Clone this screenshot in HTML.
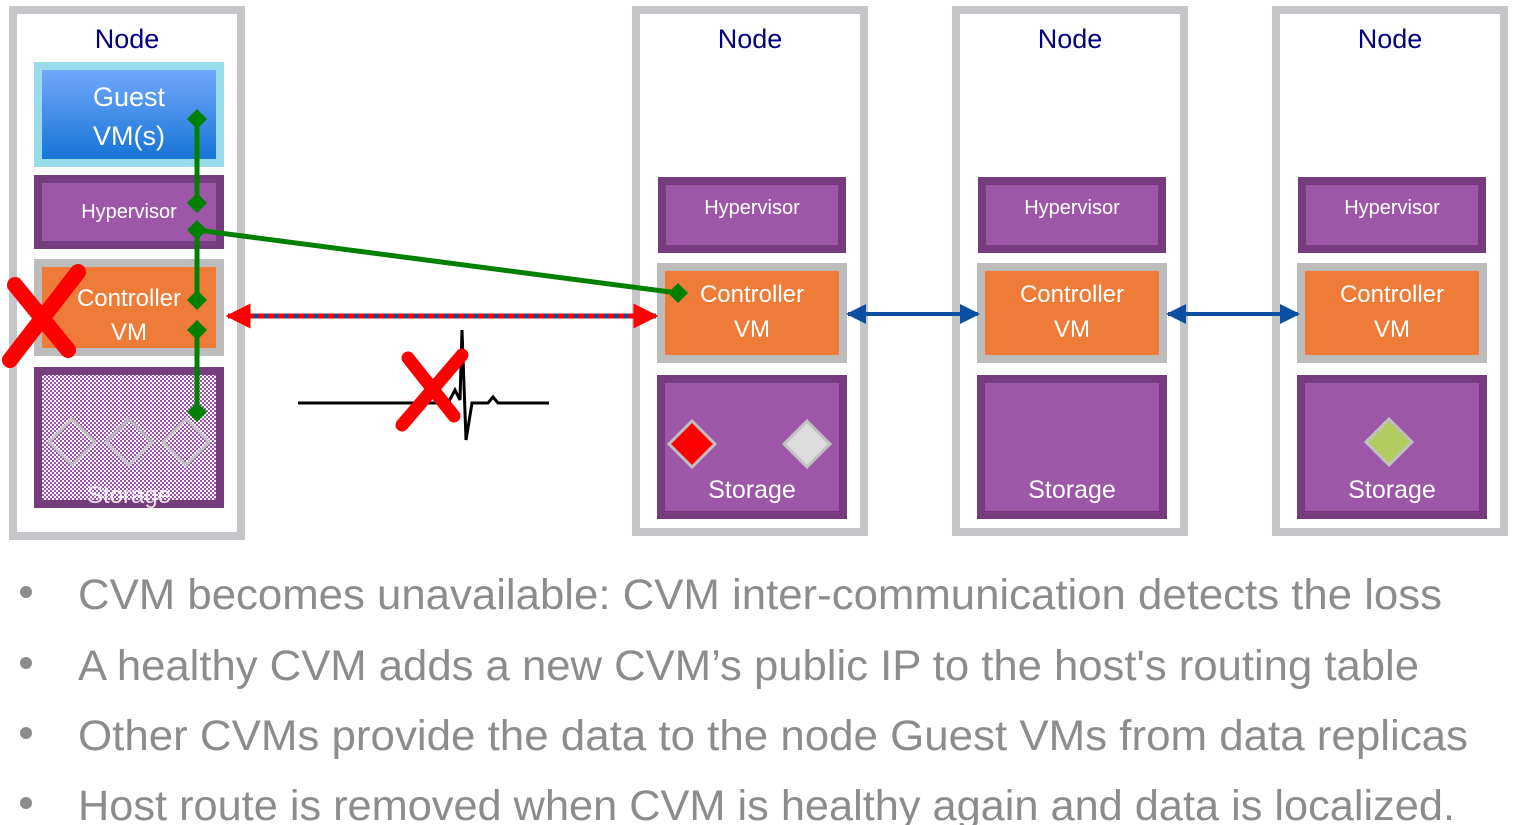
<!DOCTYPE html>
<html><head><meta charset="utf-8"><style>
html,body{margin:0;padding:0;background:#fff;}
svg{display:block;font-family:"Liberation Sans",sans-serif;}
</style></head><body>
<svg width="1523" height="825" viewBox="0 0 1523 825" xmlns="http://www.w3.org/2000/svg">
<defs>
<linearGradient id="gb" x1="0" y1="0" x2="0" y2="1"><stop offset="0" stop-color="#74aaff"/><stop offset="1" stop-color="#1472d4"/></linearGradient>
<pattern id="hatch" width="4" height="4" patternUnits="userSpaceOnUse"><rect width="4" height="4" fill="#fff"/><rect width="2" height="2" fill="#a050b0"/><rect x="2" y="2" width="2" height="2" fill="#a050b0"/></pattern>
<marker id="ab" viewBox="0 0 10 10" refX="9" refY="5" markerWidth="5" markerHeight="5" orient="auto-start-reverse"><path d="M0,0L10,5L0,10z" fill="#0b4ea2"/></marker>
<marker id="ar" viewBox="0 0 10 10" refX="9" refY="5" markerWidth="5" markerHeight="5" orient="auto-start-reverse"><path d="M0,0L10,5L0,10z" fill="#f00"/></marker>
</defs>

<!-- Node 1 -->
<rect x="13" y="10" width="228" height="526" fill="#fff" stroke="#c6c6ca" stroke-width="8"/>
<text x="127" y="48" font-size="27" fill="#000080" text-anchor="middle">Node</text>
<rect x="38" y="66" width="182" height="97" fill="url(#gb)" stroke="#99dcec" stroke-width="8"/>
<text x="129" y="106" font-size="27" fill="#fff" text-anchor="middle">Guest</text>
<text x="129" y="145" font-size="27" fill="#fff" text-anchor="middle">VM(s)</text>
<rect x="38" y="179" width="182" height="66" fill="#9e57a8" stroke="#763c7d" stroke-width="8"/>
<text x="129" y="218" font-size="20" fill="#fff" text-anchor="middle">Hypervisor</text>
<rect x="38" y="263" width="182" height="89" fill="#ee7b38" stroke="#bbbcbb" stroke-width="8"/>
<text x="129" y="306" font-size="24" fill="#fff" text-anchor="middle">Controller</text>
<text x="129" y="340" font-size="24" fill="#fff" text-anchor="middle">VM</text>
<rect x="38" y="371" width="182" height="133" fill="url(#hatch)" stroke="#763c7d" stroke-width="8"/>
<g fill="none" stroke="#c0c0c0" stroke-width="3">
<path d="M72,419 L95,442 L72,465 L49,442z"/><path d="M129,419 L152,442 L129,465 L106,442z"/><path d="M186,419 L209,442 L186,465 L163,442z"/>
</g>
<text x="129" y="503" font-size="24" fill="#fff" text-anchor="middle" opacity="0.85">Storage</text>

<!-- Nodes 2-4 -->
<g id="n2">
<rect x="636" y="10" width="228" height="522" fill="#fff" stroke="#c6c6ca" stroke-width="8"/>
<text x="750" y="48" font-size="27" fill="#000080" text-anchor="middle">Node</text>
<rect x="662" y="181" width="180" height="68" fill="#9e57a8" stroke="#763c7d" stroke-width="8"/>
<text x="752" y="214" font-size="20" fill="#fff" text-anchor="middle">Hypervisor</text>
<rect x="661" y="267" width="182" height="92" fill="#ee7b38" stroke="#bbbcbb" stroke-width="8"/>
<text x="752" y="302" font-size="24" fill="#fff" text-anchor="middle">Controller</text>
<text x="752" y="337" font-size="24" fill="#fff" text-anchor="middle">VM</text>
<rect x="661" y="379" width="182" height="136" fill="#9e57a8" stroke="#763c7d" stroke-width="8"/>
<text x="752" y="498" font-size="25" fill="#fff" text-anchor="middle">Storage</text>
</g>
<path d="M692,421 L715,444 L692,467 L669,444z" fill="#f00" stroke="#c0c0c0" stroke-width="3"/>
<path d="M807,421 L830,444 L807,467 L784,444z" fill="#dcdcdc" stroke="#c0c0c0" stroke-width="3"/>

<g transform="translate(320,0)">
<rect x="636" y="10" width="228" height="522" fill="#fff" stroke="#c6c6ca" stroke-width="8"/>
<text x="750" y="48" font-size="27" fill="#000080" text-anchor="middle">Node</text>
<rect x="662" y="181" width="180" height="68" fill="#9e57a8" stroke="#763c7d" stroke-width="8"/>
<text x="752" y="214" font-size="20" fill="#fff" text-anchor="middle">Hypervisor</text>
<rect x="661" y="267" width="182" height="92" fill="#ee7b38" stroke="#bbbcbb" stroke-width="8"/>
<text x="752" y="302" font-size="24" fill="#fff" text-anchor="middle">Controller</text>
<text x="752" y="337" font-size="24" fill="#fff" text-anchor="middle">VM</text>
<rect x="661" y="379" width="182" height="136" fill="#9e57a8" stroke="#763c7d" stroke-width="8"/>
<text x="752" y="498" font-size="25" fill="#fff" text-anchor="middle">Storage</text>
</g>
<g transform="translate(640,0)">
<rect x="636" y="10" width="228" height="522" fill="#fff" stroke="#c6c6ca" stroke-width="8"/>
<text x="750" y="48" font-size="27" fill="#000080" text-anchor="middle">Node</text>
<rect x="662" y="181" width="180" height="68" fill="#9e57a8" stroke="#763c7d" stroke-width="8"/>
<text x="752" y="214" font-size="20" fill="#fff" text-anchor="middle">Hypervisor</text>
<rect x="661" y="267" width="182" height="92" fill="#ee7b38" stroke="#bbbcbb" stroke-width="8"/>
<text x="752" y="302" font-size="24" fill="#fff" text-anchor="middle">Controller</text>
<text x="752" y="337" font-size="24" fill="#fff" text-anchor="middle">VM</text>
<rect x="661" y="379" width="182" height="136" fill="#9e57a8" stroke="#763c7d" stroke-width="8"/>
<text x="752" y="498" font-size="25" fill="#fff" text-anchor="middle">Storage</text>
</g>
<path d="M1389,419 L1412,442 L1389,465 L1366,442z" fill="#b3cc5f" stroke="#c0c0c0" stroke-width="3"/>

<!-- blue arrows -->
<line x1="848" y1="314" x2="978" y2="314" stroke="#0b4ea2" stroke-width="4" marker-start="url(#ab)" marker-end="url(#ab)"/>
<line x1="1168" y1="314" x2="1298" y2="314" stroke="#0b4ea2" stroke-width="4" marker-start="url(#ab)" marker-end="url(#ab)"/>

<!-- red/blue dotted arrow -->
<line x1="228" y1="316" x2="656" y2="316" stroke="#0b4ea2" stroke-width="5"/>
<line x1="228" y1="316" x2="656" y2="316" stroke="#f00" stroke-width="5" stroke-dasharray="6,4" marker-start="url(#ar)" marker-end="url(#ar)"/>

<!-- green connectors -->
<g stroke="#008000" stroke-width="5" fill="none">
<line x1="197" y1="119" x2="197" y2="203"/>
<line x1="197" y1="230" x2="197" y2="300"/>
<line x1="197" y1="330" x2="197" y2="412"/>
<line x1="197" y1="230" x2="678" y2="293"/>
</g>
<g fill="#008000">
<path d="M197,109 L207,119 L197,129 L187,119z"/>
<path d="M197,193 L207,203 L197,213 L187,203z"/>
<path d="M197,220 L207,230 L197,240 L187,230z"/>
<path d="M197,290 L207,300 L197,310 L187,300z"/>
<path d="M197,320 L207,330 L197,340 L187,330z"/>
<path d="M197,402 L207,412 L197,422 L187,412z"/>
<path d="M678,283 L688,293 L678,303 L668,293z"/>
</g>

<!-- big red X -->
<g stroke="#f00" stroke-width="16" stroke-linecap="round">
<line x1="15" y1="285" x2="68" y2="350"/>
<line x1="78" y1="272" x2="10" y2="360"/>
</g>

<!-- heartbeat -->
<polyline points="298,403 448,403 455,390 460,400 462,330 466,440 472,403 488,403 493,397 498,403 549,403" fill="none" stroke="#000" stroke-width="3"/>
<g stroke="#f00" stroke-width="13" stroke-linecap="round">
<line x1="408" y1="358" x2="454" y2="416"/>
<line x1="462" y1="355" x2="402" y2="425"/>
</g>

<!-- bullets -->
<g fill="#8c8c8c">
<circle cx="26" cy="592" r="6"/><circle cx="26" cy="663" r="6"/><circle cx="26" cy="733" r="6"/><circle cx="26" cy="803" r="6"/>
</g>
<g font-size="43" fill="#8c8c8c">
<text x="78" y="609" textLength="1364" lengthAdjust="spacingAndGlyphs">CVM becomes unavailable: CVM inter-communication detects the loss</text>
<text x="78" y="680" textLength="1341" lengthAdjust="spacingAndGlyphs">A healthy CVM adds a new CVM’s public IP to the host's routing table</text>
<text x="78" y="750" textLength="1390" lengthAdjust="spacingAndGlyphs">Other CVMs provide the data to the node Guest VMs from data replicas</text>
<text x="78" y="820" textLength="1377" lengthAdjust="spacingAndGlyphs">Host route is removed when CVM is healthy again and data is localized.</text>
</g>
</svg>
</body></html>
